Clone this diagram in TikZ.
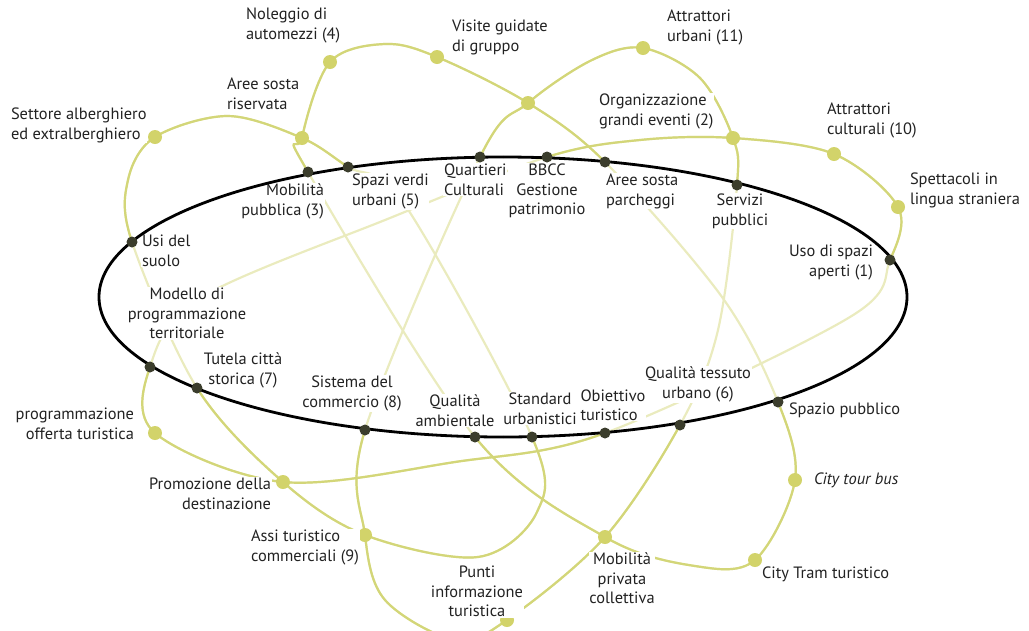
\documentclass[tikz,border=0pt]{standalone}
\usepackage{fontspec}
\setmainfont{PT Sans}
\pgfdeclarelayer{bg}
\pgfsetlayers{bg,main}
\definecolor{lineC}{HTML}{D3D678}
\definecolor{hubC}{HTML}{D2D36A}
\definecolor{stopC}{HTML}{3B3D2C}
\definecolor{txtC}{HTML}{222222}
\tikzset{
  curve/.style={draw=lineC, line width=2.2pt},
  pale/.style={draw=lineC!48!white, line width=2.2pt},
  hub/.style={circle, fill=hubC, inner sep=0pt, minimum size=14pt},
  stopdot/.style={circle, fill=stopC, inner sep=0pt, minimum size=11pt},
  lbl/.style={font=\fontsize{16.4}{19.5}\selectfont, text=txtC, inner sep=0.8pt, fill=white},
  ringline/.style={draw=black, line width=2.8pt},
  loopA/.style={insert path={plot[smooth cycle, tension=0.55] coordinates {(attrurb.center) (w1b) (organ.center) (serv.center) (w1c) (tess.center) (mobpriv.center) (punti.center) (w1d) (w1e) (assi.center) (sist.center) (quart.center) (cross.center) (w1a)}}},
  loopB/.style={insert path={plot[smooth cycle, tension=0.55] coordinates {(noleg.center) (w2a) (visite.center) (cross.center) (parch.center) (w2b) (spzpub.center) (bus.center) (tram.center) (w2c) (mobpriv.center) (qamb.center) (mobpub.center) (riserv.center)}}},
  loopC/.style={insert path={plot[smooth cycle, tension=0.55] coordinates {(bbcc.center) (w3a) (organ.center) (attrcult.center) (spett.center) (usoap.center) (w3b) (obiet.center) (w3c) (promo.center) (progoff.center) (modello.center) (w3d) (w3e)}}},
  loopD/.style={insert path={plot[smooth cycle, tension=0.55] coordinates {(settore.center) (w4a) (riserv.center) (spazi.center) (w4b) (stand.center) (w4c) (w4d) (assi.center) (promo.center) (tutela.center) (usi.center) (w4e)}}},
}
\begin{document}
\begin{tikzpicture}[x=1pt,y=-1pt]
\useasboundingbox (0,0) rectangle (1029,630);
% outer hubs
\node[hub] (noleg) at (330,62) {};
\node[hub] (visite) at (437,57) {};
\node[hub] (cross) at (528,103) {};
\node[hub] (attrurb) at (643,48) {};
\node[hub] (riserv) at (302,138) {};
\node[hub] (settore) at (155,137) {};
\node[hub] (organ) at (733,138) {};
\node[hub] (attrcult) at (834,154) {};
\node[hub] (spett) at (898,207) {};
\node[hub] (progoff) at (155,433) {};
\node[hub] (promo) at (283,482) {};
\node[hub] (assi) at (365,535) {};
\node[hub] (punti) at (507,620) {};
\node[hub] (mobpriv) at (605,537) {};
\node[hub] (bus) at (795,480) {};
\node[hub] (tram) at (755,560) {};

% labels
\node[lbl, anchor=north west, align=left] (tNoleg) at (245,7) {Noleggio di\\automezzi (4)};
\node[lbl, anchor=north west, align=left] (tVisite) at (451,19) {Visite guidate\\di gruppo};
\node[lbl, anchor=north west, align=left] (tAttrurb) at (666,9) {Attrattori\\urbani (11)};
\node[lbl, anchor=north west, align=left] (tRiserv) at (226,77) {Aree sosta\\riservata};
\node[lbl, anchor=north west, align=left] (tSettore) at (10,107) {Settore alberghiero\\ed extralberghiero};
\node[lbl, anchor=north west, align=left] (tOrgan) at (598,93) {Organizzazione\\grandi eventi (2)};
\node[lbl, anchor=north west, align=left] (tAttrcult) at (826,102) {Attrattori\\culturali (10)};
\node[lbl, anchor=north west, align=left] (tSpett) at (909,172) {Spettacoli in\\lingua straniera};
\node[lbl, anchor=north east, align=right] (tMobpub) at (325,183) {Mobilità\\pubblica (3)};
\node[lbl, anchor=north west, align=left] (tSpazi) at (351,173) {Spazi verdi\\urbani (5)};
\node[lbl, anchor=north west, align=left] (tQuart) at (443,163) {Quartieri\\Culturali};
\node[lbl, anchor=north, align=center] (tBbcc) at (547,163) {BBCC\\Gestione\\patrimonio};
\node[lbl, anchor=north west, align=left] (tParch) at (605,173) {Aree sosta\\parcheggi};
\node[lbl, anchor=north, align=center] (tServ) at (740,193) {Servizi\\pubblici};
\node[lbl, anchor=north east, align=right] (tUsoap) at (874,244) {Uso di spazi\\aperti (1)};
\node[lbl, anchor=north west, align=left] (tUsi) at (141,234) {Usi del\\suolo};
\node[lbl, anchor=north, align=center] (tModello) at (187,287) {Modello di\\programmazione\\territoriale};
\node[lbl, anchor=north, align=center] (tTutela) at (243,352) {Tutela città\\storica (7)};
\node[lbl, anchor=north, align=center] (tSist) at (352,375) {Sistema del\\commercio (8)};
\node[lbl, anchor=north, align=center] (tQamb) at (455,394) {Qualità\\ambientale};
\node[lbl, anchor=north, align=center] (tStand) at (540,392) {Standard\\urbanistici};
\node[lbl, anchor=north, align=center] (tTess) at (698,366) {Qualità tessuto\\urbano (6)};
\node[lbl, anchor=north west, align=left, inner sep=0.3pt] (tObiet) at (580,389) {Obiettivo\\turistico};
\node[lbl, anchor=west] (tSpzpub) at (788,410) {Spazio pubblico};
\node[lbl, anchor=north east, align=right] (tProgoff) at (135,407) {programmazione\\offerta turistica};
\node[lbl, anchor=north east, align=right] (tPromo) at (272,477) {Promozione della\\destinazione};
\node[lbl, anchor=north west, align=left] (tAssi) at (250,529) {Assi turistico\\commerciali (9)};
\node[lbl, anchor=north, align=center] (tPunti) at (477,565) {Punti\\informazione\\turistica};
\node[lbl, anchor=north, align=center] (tMobpriv) at (622,552) {Mobilità\\privata\\collettiva};
\node[lbl, anchor=west, font=\fontsize{16.4}{19.5}\selectfont\itshape] (tBus) at (813,480) {City tour bus};
\node[lbl, anchor=west] (tTram) at (761,574) {City Tram turistico};

% the ring, above the labels
\draw[ringline] (907,297) arc[start angle=0, end angle=90, x radius=404pt, y radius=140pt];
\draw[ringline] (503,157) arc[start angle=90, end angle=180, x radius=404pt, y radius=140pt];
\draw[ringline] (99,297) arc[start angle=180, end angle=270, x radius=404pt, y radius=140pt];
\draw[ringline] (503,437) arc[start angle=270, end angle=360, x radius=404pt, y radius=140pt];

% stops on the ring
\node[stopdot] (mobpub) at (308,172) {};
\node[stopdot] (spazi) at (348,167) {};
\node[stopdot] (quart) at (480,157) {};
\node[stopdot] (bbcc) at (547,157) {};
\node[stopdot] (parch) at (605,162) {};
\node[stopdot] (serv) at (737,185) {};
\node[stopdot] (usoap) at (890,260) {};
\node[stopdot] (spzpub) at (778,402) {};
\node[stopdot] (tess) at (680,425) {};
\node[stopdot] (obiet) at (605,433) {};
\node[stopdot] (stand) at (532,437) {};
\node[stopdot] (qamb) at (475,437) {};
\node[stopdot] (sist) at (365,430) {};
\node[stopdot] (tutela) at (197,388) {};
\node[stopdot] (modello) at (150,367) {};
\node[stopdot] (usi) at (132,242) {};

% waypoints
\coordinate (w1a) at (592,60);
\coordinate (w1b) at (700,78);
\coordinate (w1c) at (718,330);
\coordinate (w1d) at (455,640);
\coordinate (w1e) at (385,600);
\coordinate (w2a) at (385,44);
\coordinate (w2b) at (722,297);
\coordinate (w2c) at (695,566);
\coordinate (w3a) at (640,140);
\coordinate (w3b) at (850,317);
\coordinate (w3c) at (455,462);
\coordinate (w3d) at (200,298);
\coordinate (w3e) at (390,218);
\coordinate (w4a) at (228,116);
\coordinate (w4b) at (405,205);
\coordinate (w4c) at (537,512);
\coordinate (w4d) at (478,557);
\coordinate (w4e) at (128,180);

\begin{pgfonlayer}{bg}
% pale interior parts
\draw[pale, loopA];
\draw[pale, loopB];
\draw[pale, loopC];
\draw[pale, loopD];
% full colour outside the ring
\begin{scope}
\clip (-10,-10) -- (1040,-10) -- (1040,650) -- (-10,650) -- cycle
      (907,297) arc[start angle=0, end angle=360, x radius=404pt, y radius=140pt];
\draw[curve, loopA];
\draw[curve, loopB];
\draw[curve, loopC];
\draw[curve, loopD];
\end{scope}
\end{pgfonlayer}
\end{tikzpicture}
\end{document}
